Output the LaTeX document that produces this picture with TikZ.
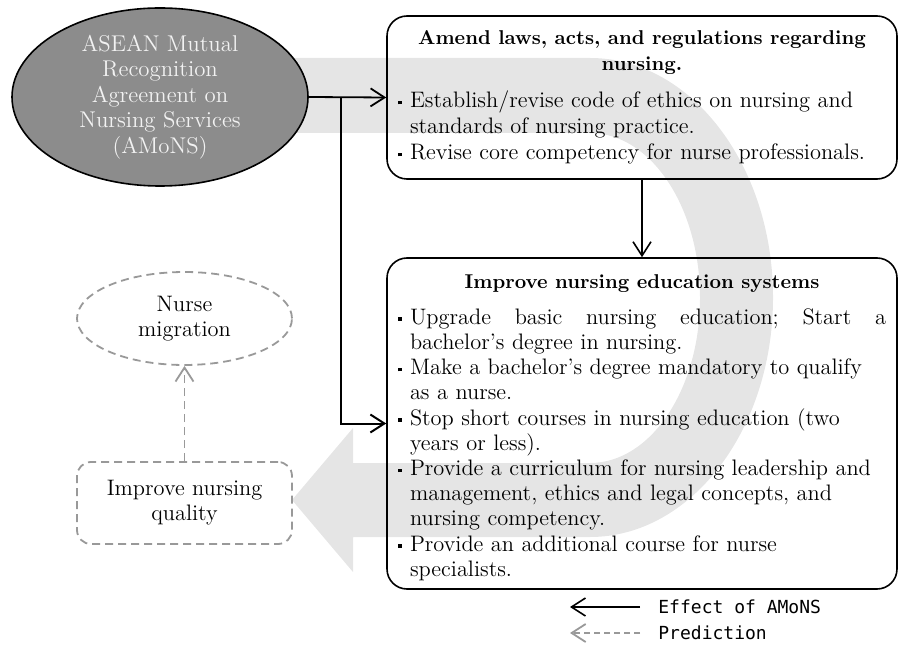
\documentclass[tikz,border=0pt]{standalone}
\usepackage{fontspec}
\newfontfamily\legendfont{DejaVu Sans Mono}
\usetikzlibrary{arrows.meta,shapes.geometric}

% bullet with hanging indent
\newlength\bw \setlength\bw{6pt}
\newcommand\itm{\makebox[\bw][l]{\raisebox{0.35ex}{\rule{1.8pt}{1.8pt}}}}
\newcommand\ind{\hspace*{\bw}}
\newcommand\headfont{\fontsize{10}{13}\selectfont\bfseries}

\begin{document}
\begin{tikzpicture}[x=0.5pt,y=-0.5pt,>={Straight Barb[length=7pt,width=9pt]},
  every node/.style={font=\fontsize{11.2}{12.6}\selectfont},
  stepbox/.style={draw,rounded corners=10pt,line width=0.8pt,minimum width=255pt,
    text width=244pt,inner xsep=5.5pt},
  guess/.style={draw=black!40,dash pattern=on 4pt off 2.5pt,line width=0.9pt},
  legend/.style={font=\legendfont\fontsize{9}{11}\selectfont,anchor=west,inner sep=3pt}]
  \useasboundingbox (0,0) rectangle (898,646);

  % big gray arrow in the back
  \fill[black!10] (200,58) -- (590,58) arc (-90:90:183 and 239.5) -- (353,537)
    -- (353,572) -- (292,500) -- (353,428) -- (353,463) -- (590,463)
    arc (90:-90:110 and 165) -- (200,133) -- cycle;

  \node[ellipse,draw,fill=black!45,text=black!5,line width=0.8pt,align=center,
    minimum width=148pt,minimum height=89pt,inner sep=0pt,
    font=\fontsize{11.4}{12.75}\selectfont] (amons) at (160,97)
    {ASEAN Mutual\\Recognition\\Agreement on\\Nursing Services\\(AMoNS)};

  \node[stepbox,minimum height=81.5pt,font=\fontsize{11.2}{13}\selectfont] (amend) at (642,97.5) {%
    {\centering\headfont Amend laws, acts, and regulations regarding\\nursing.\par}
    \vspace{5.5pt}\raggedright
    \itm Establish/revise code of ethics on nursing and\\
    \ind standards of nursing practice.\\
    \itm Revise core competency for nurse professionals.};

  \node[stepbox,minimum height=165.5pt] (educ) at (642,423.5) {%
    {\centering\headfont\rule{0pt}{11pt}Improve nursing education systems\par}
    \vspace{5.4pt}\raggedright
    \itm\makebox[238pt][l]{Upgrade\hfill basic\hfill nursing\hfill education;\hfill Start\hfill a}\\
    \ind bachelor's degree in nursing.\\
    \itm Make a bachelor's degree mandatory to qualify\\
    \ind as a nurse.\\
    \itm Stop short courses in nursing education (two\\
    \ind years or less).\\
    \itm Provide a curriculum for nursing leadership and\\
    \ind management, ethics and legal concepts, and\\
    \ind nursing competency.\\
    \itm Provide an additional course for nurse\\
    \ind specialists.};

  \node[ellipse,guess,align=center,minimum width=107.5pt,minimum height=46.5pt,
    inner sep=0pt] (migr) at (184.5,318.5) {Nurse\\migration};
  \node[guess,rounded corners=7pt,align=center,minimum width=107.5pt,
    minimum height=41pt] (quality) at (184.5,503) {Improve nursing\\quality};

  \draw[->,line width=0.9pt] (amons.east) -- (amend.west);
  \coordinate (split) at (341,97);
  \draw[->,line width=1pt] (split) |- (educ.west);
  \draw[->,line width=0.8pt] (amend.south) -- (educ.north);
  \draw[->,guess] (quality.north) -- (migr.south);

  % key
  \node[legend] (effect) at (652,607) {Effect of AMoNS};
  \node[legend] (pred) at (652,633) {Prediction};
  \coordinate (effectEnd) at (570,607);
  \coordinate (predEnd) at (570,633);
  \draw[->,line width=0.8pt] ([xshift=-6pt]effect.west) -- (effectEnd);
  \draw[->,guess,dash pattern=on 3pt off 2pt] ([xshift=-6pt]pred.west) -- (predEnd);
\end{tikzpicture}
\end{document}
